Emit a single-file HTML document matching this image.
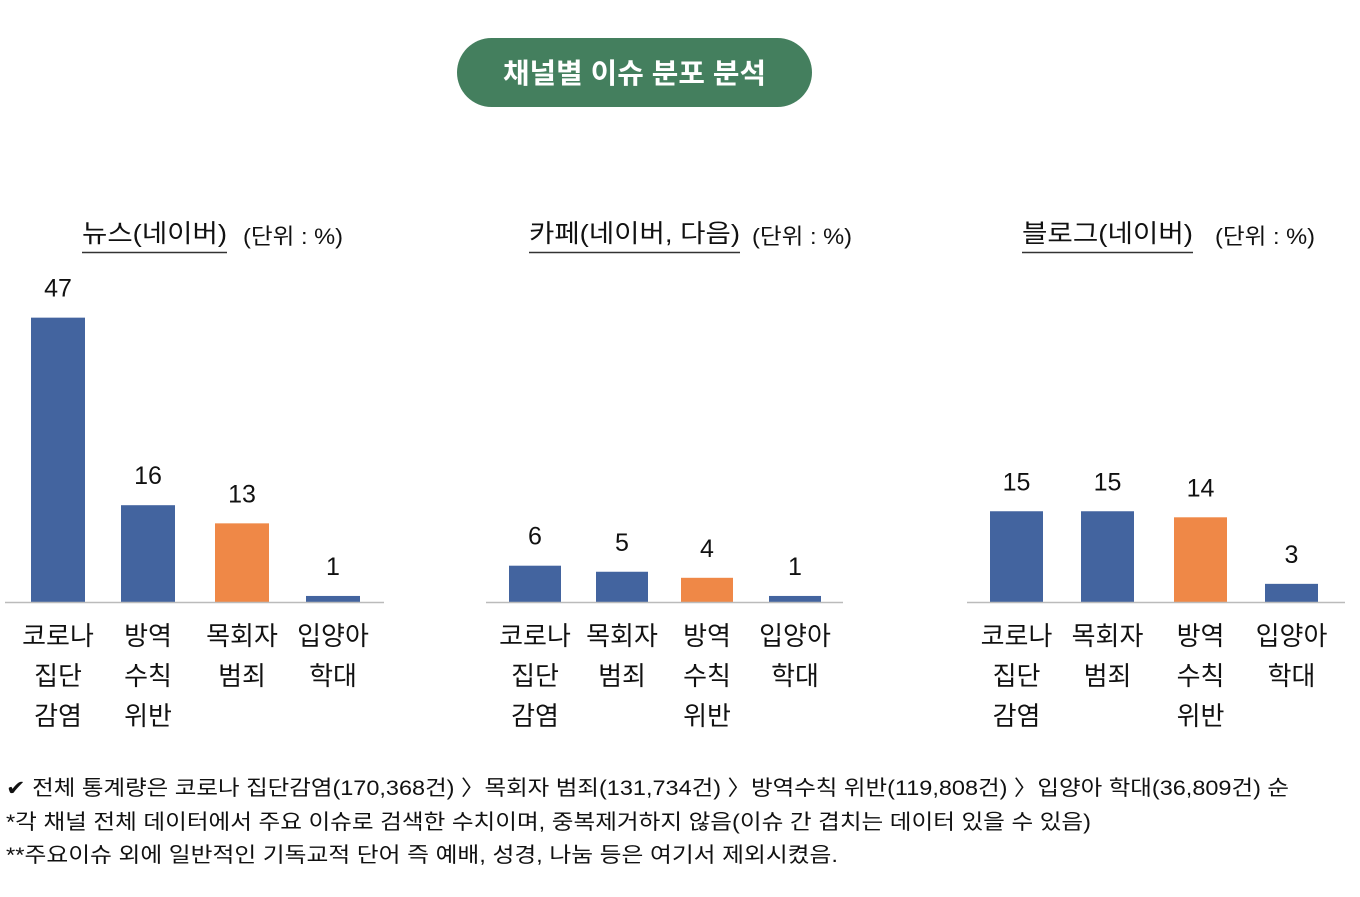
<!DOCTYPE html>
<html><head><meta charset="utf-8">
<style>
body{margin:0;background:#fff;width:1360px;height:892px;overflow:hidden;font-family:"Liberation Sans","Noto Sans CJK KR",sans-serif;}
svg text{font-family:"Liberation Sans","Noto Sans CJK KR",sans-serif;}
</style></head><body>
<svg id="chart" width="1360" height="892" xmlns="http://www.w3.org/2000/svg">
<rect x="457" y="38" width="355" height="69" rx="34.5" fill="#447f5e"/>
<text x="503" y="83" font-size="28" font-weight="bold" fill="#fff" textLength="263" lengthAdjust="spacingAndGlyphs">채널별 이슈 분포 분석</text>
<g id="panels"></g>
<text x="6" y="795" font-size="21" fill="#111" textLength="1283" lengthAdjust="spacingAndGlyphs">✔ 전체 통계량은 코로나 집단감염(170,368건) 〉목회자 범죄(131,734건) 〉방역수칙 위반(119,808건) 〉입양아 학대(36,809건) 순</text>
<text x="6" y="829" font-size="21" fill="#111" textLength="1085" lengthAdjust="spacingAndGlyphs">*각 채널 전체 데이터에서 주요 이슈로 검색한 수치이며, 중복제거하지 않음(이슈 간 겹치는 데이터 있을 수 있음)</text>
<text x="6" y="862" font-size="21" fill="#111" textLength="832" lengthAdjust="spacingAndGlyphs">**주요이슈 외에 일반적인 기독교적 단어 즉 예배, 성경, 나눔 등은 여기서 제외시켰음.</text>
</svg>
<script>
const newsCategories=[["코로나","집단","감염"],["방역","수칙","위반"],["목회자","범죄"],["입양아","학대"]];
const newsValues=[47,16,13,1];
const newsHighlight=[false,false,true,false];
const cafeCategories=[["코로나","집단","감염"],["목회자","범죄"],["방역","수칙","위반"],["입양아","학대"]];
const cafeValues=[6,5,4,1];
const cafeHighlight=[false,false,true,false];
const blogCategories=[["코로나","집단","감염"],["목회자","범죄"],["방역","수칙","위반"],["입양아","학대"]];
const blogValues=[15,15,14,3];
const blogHighlight=[false,false,true,false];
const panelTitles=["뉴스(네이버)","카페(네이버, 다음)","블로그(네이버)"];

const NS="http://www.w3.org/2000/svg";
const baseY=602, pxPerUnit=6.05;
function yScale(v){return baseY-v*pxPerUnit;}
const layouts=[
 {x0:5,x1:384,bx:[31,121,215,306],bw:54,tx:82,tw:145,ux:243},
 {x0:486,x1:843,bx:[509,596,681,769],bw:52,tx:529,tw:211,ux:752},
 {x0:967,x1:1345,bx:[990,1081,1174,1265],bw:53,tx:1022,tw:171,ux:1215}
];
const datasets=[[newsCategories,newsValues,newsHighlight],[cafeCategories,cafeValues,cafeHighlight],[blogCategories,blogValues,blogHighlight]];
const g=document.getElementById('panels');
function mk(tag,attrs,txt){const e=document.createElementNS(NS,tag);for(const k in attrs)e.setAttribute(k,attrs[k]);if(txt!==undefined)e.textContent=txt;g.appendChild(e);return e;}
datasets.forEach((ds,p)=>{
 const L=layouts[p];const [cats,vals,hl]=ds;
 let t=mk('text',{x:L.tx,y:242,'font-size':25,fill:'#111',textLength:L.tw,lengthAdjust:'spacingAndGlyphs'},panelTitles[p]);
 
 
 let u=mk('line',{x1:L.tx,x2:L.tx+L.tw,y1:252.5,y2:252.5,stroke:'#333','stroke-width':1.5});
 
 
 let un=mk('text',{x:L.ux,y:244,'font-size':22,fill:'#111',textLength:100,lengthAdjust:'spacingAndGlyphs'},'(단위 : %)');
 
 
 vals.forEach((v,i)=>{
  const x=L.bx[i],w=L.bw,y=yScale(v);
  let r=mk('rect',{x:x,y:y,width:w,height:baseY-y,fill:hl[i]?'#ef8847':'#43649f'});
  
  
  let vl=mk('text',{x:x+w/2,y:y-21,'text-anchor':'middle','font-size':25,fill:'#111'},String(v));
  
  
  cats[i].forEach((line,j)=>{
   let c=mk('text',{x:x+w/2,y:645+j*40,'text-anchor':'middle','font-size':26,fill:'#111'},line);
   
   
  });
 });
 let ax=mk('line',{x1:L.x0,x2:L.x1,y1:baseY+0.5,y2:baseY+0.5,stroke:'#bbb','stroke-width':1.5});
 
 
});
</script>
</body></html>
